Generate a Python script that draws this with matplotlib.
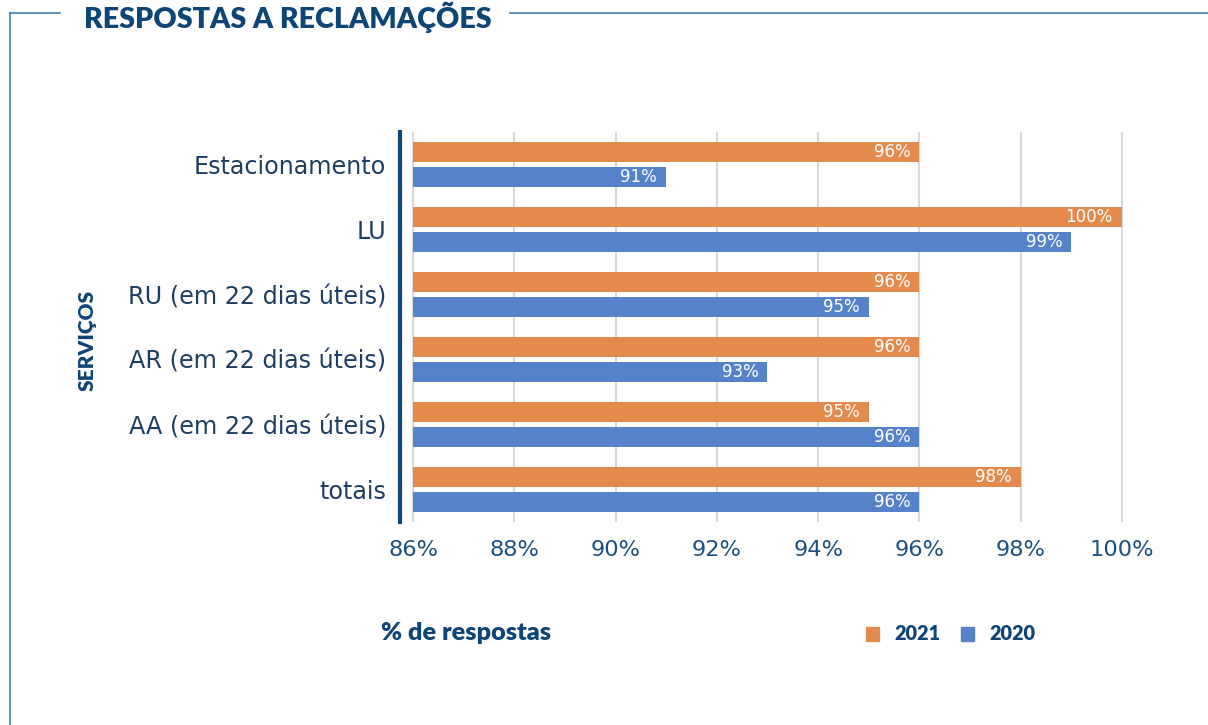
import matplotlib.pyplot as plt
from matplotlib.lines import Line2D
from matplotlib.patches import Rectangle
import numpy as np

plt.rcParams["font.family"] = ["DejaVu Sans"]
BOLD = ["Lato", "DejaVu Sans"]

categories = ["Estacionamento", "LU", "RU (em 22 dias úteis)", "AR (em 22 dias úteis)",
              "AA (em 22 dias úteis)", "totais"]
values_2021 = [96, 100, 96, 96, 95, 98]
values_2020 = [91, 99, 95, 93, 96, 96]
xticks = [86, 88, 90, 92, 94, 96, 98, 100]

orange = "#E48A4D"
blue = "#5682CA"
navy = "#0E4476"
tick_navy = "#1C4F82"
frame_blue = "#3F7FB8"

W, H = 1208, 725
fig = plt.figure(figsize=(W / 100, H / 100), dpi=100)

# axes: spine at x=400, top 132, bottom 522
ax = fig.add_axes([400 / W, 1 - 522 / H, 724 / W, 390 / H])

y = np.arange(len(categories))
h = 0.31
off = 0.19
base = 86
ax.barh(y - off, np.array(values_2021) - base, left=base, height=h, color=orange, zorder=3)
ax.barh(y + off, np.array(values_2020) - base, left=base, height=h, color=blue, zorder=3)

for yi, v in zip(y, values_2021):
    ax.text(v - 0.18, yi - off, f"{v}%", ha="right", va="center", color="white",
            fontsize=12, zorder=4)
for yi, v in zip(y, values_2020):
    ax.text(v - 0.18, yi + off, f"{v}%", ha="right", va="center", color="white",
            fontsize=12, zorder=4)

ax.set_xlim(86 - 13 / 50.64, 100.04)
ax.set_ylim(len(categories) - 0.5, -0.5)
ax.set_xticks(xticks)
ax.set_xticklabels([f"{t}%" for t in xticks], fontsize=16.2, color=tick_navy)
ax.set_yticks(y)
ax.set_yticklabels(categories, fontsize=17.2, color="#1E3D62")
ax.tick_params(axis="both", length=0)
ax.tick_params(axis="x", pad=13)
ax.tick_params(axis="y", pad=10)
for lab in ax.get_yticklabels():
    lab.set_y(lab.get_position()[1])
ax.grid(axis="x", color="#D9D9D9", linewidth=1.5, zorder=0)
for s in ["top", "right", "bottom"]:
    ax.spines[s].set_visible(False)
ax.spines["left"].set_color(navy)
ax.spines["left"].set_linewidth(3)
ax.spines["left"].set_zorder(5)

# frame lines
fig.add_artist(Line2D([10 / W, 60 / W], [1 - 13 / H, 1 - 13 / H], color=frame_blue, lw=1.2))
fig.add_artist(Line2D([10 / W, 10 / W], [1 - 13 / H, 0], color=frame_blue, lw=1.2))
fig.add_artist(Line2D([510 / W, 1], [1 - 13 / H, 1 - 13 / H], color=frame_blue, lw=1.2))

fig.text(84 / W, 1 - 17 / H, "RESPOSTAS A RECLAMAÇÕES", ha="left", va="center",
         fontsize=20.6, fontweight="heavy", color=navy, family=BOLD)
fig.text(87 / W, 1 - 340 / H, "SERVIÇOS", rotation=90, ha="center", va="center",
         fontsize=15, fontweight="heavy", color=navy, family=BOLD)
fig.text(381 / W, 1 - 633 / H, "% de respostas", ha="left", va="center",
         fontsize=18.2, fontweight="heavy", color=navy, family=BOLD)

# legend
for x0, col, lab in [(866, orange, "2021"), (961, blue, "2020")]:
    fig.add_artist(Rectangle((x0 / W, 1 - 641 / H), 13 / W, 14 / H,
                             transform=fig.transFigure, color=col))
    fig.text((x0 + 28) / W, 1 - 634 / H, lab, ha="left", va="center",
             fontsize=14.3, fontweight="heavy", color=navy, family=BOLD)

fig.savefig("out.png", dpi=100)
